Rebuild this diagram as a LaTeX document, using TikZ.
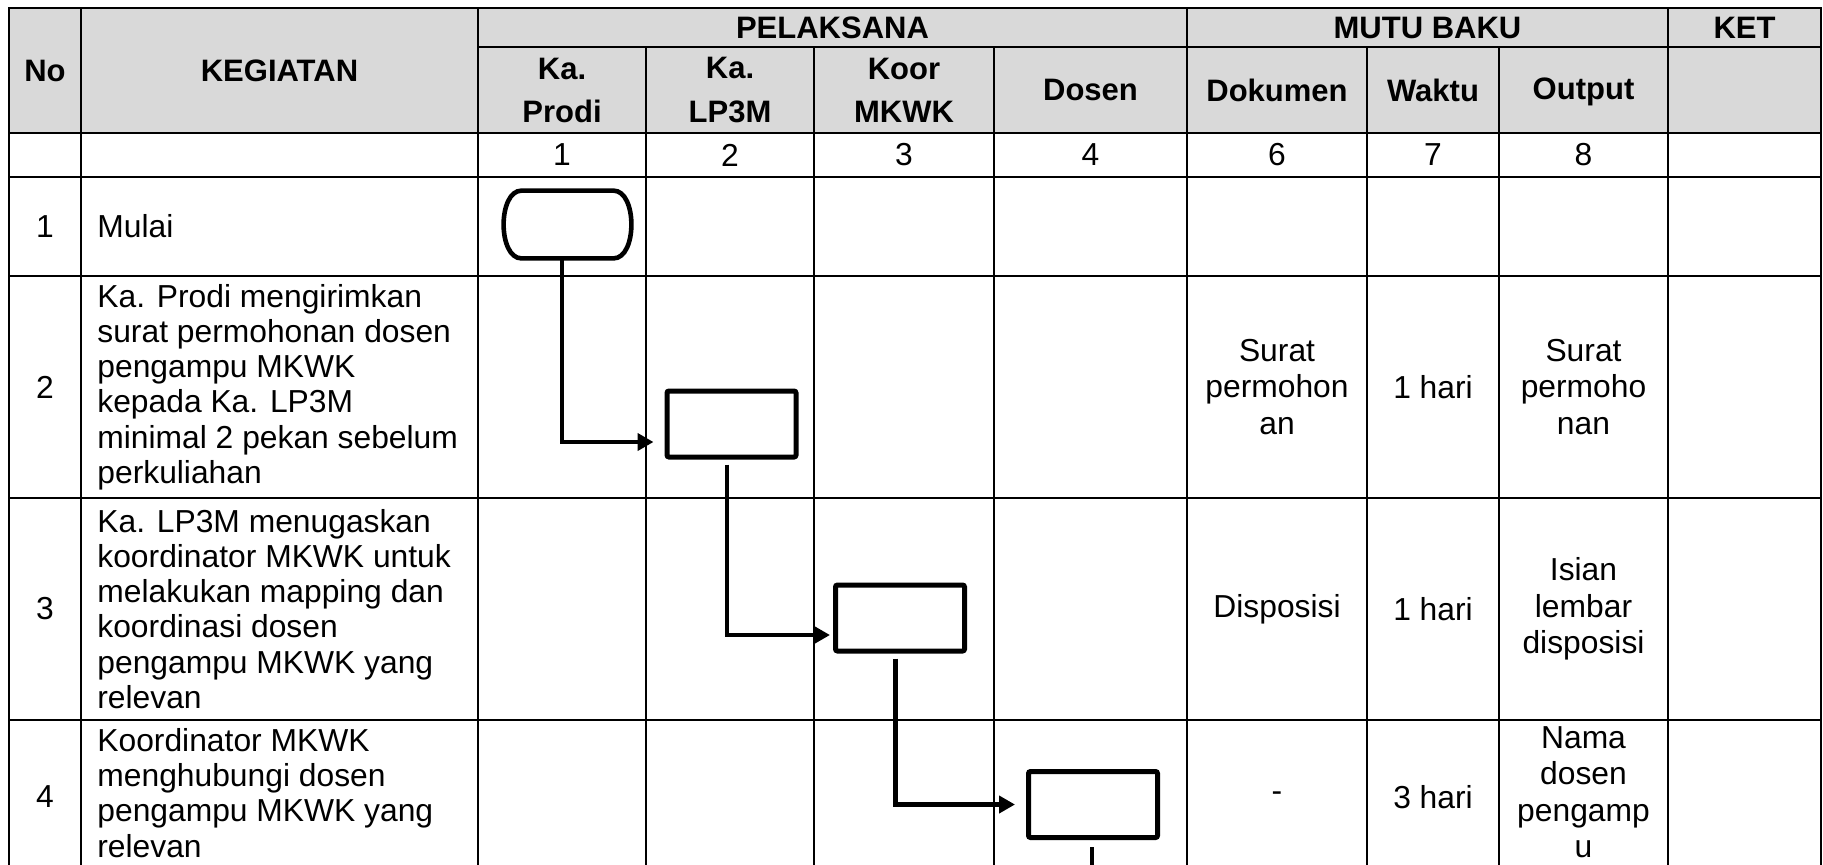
\documentclass[tikz,border=0pt]{standalone}
\usepackage{fontspec}
\setmainfont{Liberation Sans}
\usetikzlibrary{arrows.meta, positioning}
\definecolor{headgray}{RGB}{217, 217, 217}

\begin{document}
\begin{tikzpicture}[x=0.5pt, y=-0.5pt,
    grid/.style={line width=1.1pt, line cap=rect},
    hdr/.style={font=\fontsize{15.5}{21.5}\selectfont\bfseries, align=center, inner sep=0pt},
    cell/.style={font=\fontsize{15.9}{18.2}\selectfont, align=center, inner sep=0pt},
    act/.style={font=\fontsize{15.9}{17.6}\selectfont, align=left, anchor=west, inner sep=0pt},
    startshape/.style={minimum width=63.5pt, minimum height=33.5pt, inner sep=0pt},
    procbox/.style={draw, line width=2.5pt, rounded corners=1pt, minimum width=64.5pt,
                    minimum height=33pt, inner sep=0pt},
    flow/.style={line width=2.3pt, -{Triangle[length=8pt, width=8.5pt]}}
]
    \clip (0,0) rectangle (1823,864);

    % table
    \fill[headgray] (9,8) rectangle (1821,133);
    \foreach \y in {8,133,177,276,498,720}
        \draw[grid] (9,\y) -- (1821,\y);
    \draw[grid] (478,47) -- (1821,47);
    \foreach \x in {9,81,478,1187,1668,1821}
        \draw[grid] (\x,8) -- (\x,880);
    \foreach \x in {646,814,994,1367,1499}
        \draw[grid] (\x,47) -- (\x,880);

    % header
    \node[hdr] (hno) at (45,70.5) {No};
    \node[hdr] (hkeg) at (279.5,70.5) {KEGIATAN};
    \node[hdr] (hpel) at (832.5,27.5) {PELAKSANA};
    \node[hdr] (hmutu) at (1427.5,27.5) {MUTU BAKU};
    \node[hdr] (hket) at (1744.5,27.5) {KET};
    \node[hdr] (hprodi) at (562,90) {Ka.\\Prodi};
    \node[hdr] (hlp3m) at (730,90) {Ka.\\LP3M};
    \node[hdr] (hkoor) at (904,90) {Koor\\MKWK};
    \node[hdr] (hdosen) at (1090.5,90) {Dosen};
    \node[hdr] (hdok) at (1277,90) {Dokumen};
    \node[hdr] (hwaktu) at (1433,90) {Waktu};
    \node[hdr] (hout) at (1583.5,92) {Output};

    \foreach \t/\x in {1/562,2/730,3/904,4/1090.5,6/1277,7/1433,8/1583.5}
        \node[cell] (num\t) at (\x,155) {\t};
    \foreach \n/\y in {1/226.5,2/387,3/609,4/797}
        \node[cell] (no\n) at (45,\y) {\n};

    % kegiatan
    \node[act] (keg1) at (97,226.5) {Mulai};
    \node[act] (keg2) at (97,387) {Ka. Prodi mengirimkan\\surat permohonan dosen\\pengampu MKWK\\kepada Ka. LP3M\\minimal 2 pekan sebelum\\perkuliahan};
    \node[act] (keg3) at (97,609) {Ka. LP3M menugaskan\\koordinator MKWK untuk\\melakukan mapping dan\\koordinasi dosen\\pengampu MKWK yang\\relevan};
    \node[act] (keg4) at (97,793) {Koordinator MKWK\\menghubungi dosen\\pengampu MKWK yang\\relevan};

    % mutu baku
    \node[cell] (dok2) at (1277,387) {Surat\\permohon\\an};
    \node[cell] (wkt2) at (1433,387) {1 hari};
    \node[cell] (out2) at (1583.5,387) {Surat\\permoho\\nan};
    \node[cell] (dok3) at (1277,609) {Disposisi};
    \node[cell] (wkt3) at (1433,609) {1 hari};
    \node[cell] (out3) at (1583.5,609) {Isian\\lembar\\disposisi};
    \node[cell] (dok4) at (1277,797) {-};
    \node[cell] (wkt4) at (1433,797) {3 hari};
    \node[cell] (out4) at (1583.5,792) {Nama\\dosen\\pengamp\\u};

    % flow
    \node[startshape] (start) at (567.5,224.5) {};
    \draw[line width=2.3pt] ([xshift=9pt]start.north west) -- ([xshift=-9pt]start.north east)
        .. controls ([xshift=3pt]start.north east) and ([xshift=3pt]start.south east) .. ([xshift=-9pt]start.south east)
        -- ([xshift=9pt]start.south west)
        .. controls ([xshift=-3pt]start.south west) and ([xshift=-3pt]start.north west) .. cycle;
    \node[procbox] (lp3m) at (731.5,424) {};
    \node[procbox] (koor) at (900,618) {};
    \node[procbox] (dosen) at (1093,804.5) {};
    \coordinate (next) at (1092,900);

    \draw[flow] ([xshift=-2.75pt]start.south) |- ([xshift=-5.5pt, yshift=-9pt]lp3m.west);
    \draw[flow] ([xshift=-2.25pt, yshift=-2.5pt]lp3m.south) |- ([xshift=-1.5pt, yshift=-8.5pt]koor.west);
    \draw[flow] ([xshift=-2.25pt, yshift=-2.5pt]koor.south) |- ([xshift=-5.5pt]dosen.west);
    \draw[line width=2.3pt] ([xshift=-0.5pt, yshift=-3.5pt]dosen.south) -- (next);
\end{tikzpicture}
\end{document}
